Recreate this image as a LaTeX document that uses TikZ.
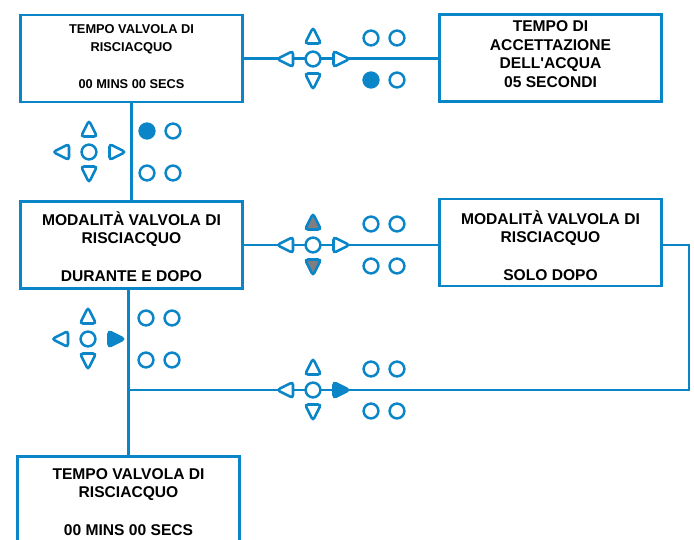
\documentclass[tikz,border=0pt]{standalone}
\usepackage{fontspec}
\newfontfamily\lsans{Liberation Sans}[BoldFont={Liberation Sans Bold}]
\definecolor{bl}{HTML}{0A86C8}
\definecolor{gr}{HTML}{7F7F7F}
\tikzset{
 box/.style={draw=bl,line width=2.8pt,minimum width=222pt,minimum height=87pt,inner sep=0pt,fill=white},
 txt/.style={align=center,font=\lsans\bfseries\fontsize{15.6}{18.6}\selectfont,inner sep=0pt},
 txtsmall/.style={align=center,font=\lsans\bfseries\fontsize{12.8}{18}\selectfont,inner sep=0pt},
 link/.style={draw=bl,line width=2.6pt},
 key/.style={draw=bl,line width=2.6pt,rounded corners=3pt,fill=white},
 dot/.style={draw=bl,line width=2.5pt,fill=white},
}
\newcommand\pad[7]{%
\begin{scope}[shift={(#1,#2)}]
\draw[key,fill=#3] (0,-31.5) -- (8,-15.5) -- (-8,-15.5) -- cycle;
\draw[key,fill=#4] (0,30.5) -- (8,14.5) -- (-8,14.5) -- cycle;
\draw[key] (-36,0) -- (-20,8) -- (-20,-8) -- cycle;
\draw[key,fill=#5] (36.5,0) -- (20.5,8) -- (20.5,-8) -- cycle;
\draw[dot] (0,0) circle (7.4);
\draw[dot,fill=#6] (58,-21) circle (7.4);
\draw[dot] (84,-21) circle (7.4);
\draw[dot,fill=#7] (58,21) circle (7.4);
\draw[dot] (84,21) circle (7.4);
\end{scope}}
\begin{document}
\begin{tikzpicture}[x=1pt,y=-1pt]
\useasboundingbox (0,0) rectangle (694,539);
\clip (0,0) rectangle (694,539);
\node[box] (b1) at (131.5,58.5) {};
\node[box] (b2) at (550.5,58) {};
\node[box] (b3) at (131.5,245) {};
\node[box] (b4) at (550.5,242.5) {};
\node[box] (b5) at (128.5,500) {};
\node[txtsmall] (t1) at (131.5,57) {TEMPO VALVOLA DI\\RISCIACQUO\\[19pt]00 MINS 00 SECS};
\node[txt] (t2) at (550.5,54) {TEMPO DI\\ACCETTAZIONE\\DELL'ACQUA\\05 SECONDI};
\node[txt] (t3) at (131.5,246.5) {MODALITÀ VALVOLA DI\\RISCIACQUO\\[19pt]DURANTE E DOPO};
\node[txt] (t4) at (550.5,245.5) {MODALITÀ VALVOLA DI\\RISCIACQUO\\[19pt]SOLO DOPO};
\node[txt] (t5) at (128.5,502) {TEMPO VALVOLA DI\\RISCIACQUO\\[19pt]00 MINS 00 SECS};
\coordinate (cr) at (689,390);
\coordinate (j) at (b5.north |- cr);
\draw[link] (b1.east) -- (b2.west |- b1.east);
\draw[link] (b1.south) -- (b3.north);
\draw[link] (b3.east) -- (b4.west |- b3.east);
\draw[link] (b5.north |- b3.south) -- (b5.north);
\draw[link] (b4.east |- b3.east) -| (cr) -- (j);
\pad{313}{59}{white}{white}{white}{white}{bl}
\pad{89}{152}{white}{white}{white}{bl}{white}
\pad{313}{245}{gr}{gr}{white}{white}{white}
\pad{88}{339}{white}{white}{bl}{white}{white}
\pad{313}{390}{white}{white}{bl}{white}{white}
\end{tikzpicture}
\end{document}
